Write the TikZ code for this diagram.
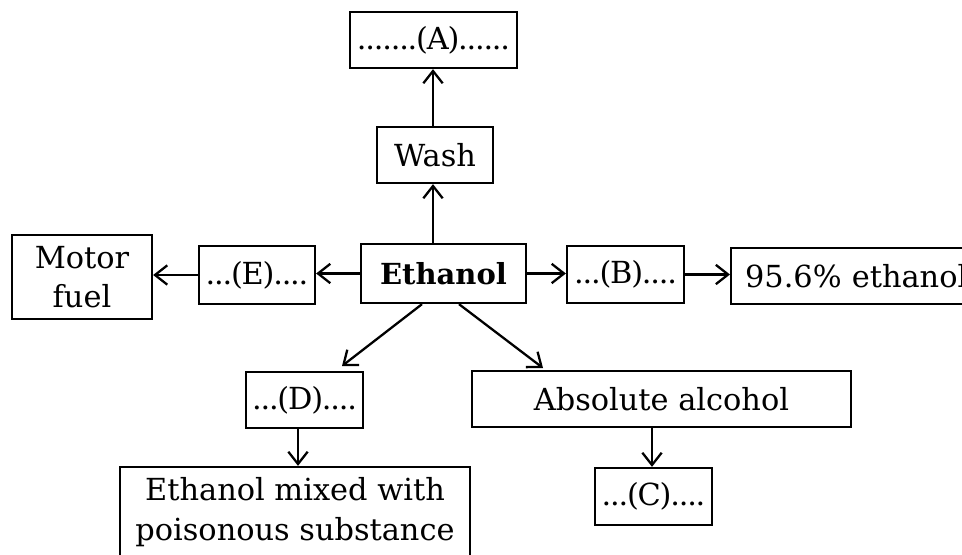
\documentclass[tikz,border=0pt]{standalone}
\usepackage{fontspec}
\setmainfont{DejaVu Serif}
\usetikzlibrary{arrows.meta}
\begin{document}
\begin{tikzpicture}[x=0.02cm,y=-0.02cm,
  box/.style={draw,line width=1.3pt,rectangle,inner sep=0pt,align=center,
    font=\fontsize{17.3}{22.5}\selectfont},
  blank/.style={box,font=\fontsize{17.3}{22.5}\selectfont\addfontfeatures{LetterSpace=-4}},
  conn/.style={line width=1.3pt,-{Straight Barb[length=7pt,width=11pt,line width=1.3pt]}}]
\useasboundingbox (0,0) rectangle (962,554);
\begin{scope}
\clip (0,0) rectangle (962,554);
% top chain
\node[blank,minimum width=167*0.02cm,minimum height=56*0.02cm] (A) at (433.5,40) {.......(A)......};
\node[box,minimum width=116*0.02cm,minimum height=56*0.02cm] (wash) at (435,155) {Wash};
% middle row
\node[box,minimum width=165*0.02cm,minimum height=59*0.02cm,font=\fontsize{16.5}{20}\selectfont\bfseries] (eth) at (443.5,273.5) {Ethanol};
\node[blank,minimum width=116*0.02cm,minimum height=58*0.02cm] (E) at (257,275) {...(E)....};
\node[box,minimum width=140*0.02cm,minimum height=84*0.02cm] (motor) at (82,277) {Motor\\fuel};
\node[blank,minimum width=117*0.02cm,minimum height=57*0.02cm] (B) at (625.5,274.5) {...(B)....};
\node[box,minimum width=262*0.02cm,minimum height=56*0.02cm,anchor=west,inner xsep=14*0.02cm,text width=234*0.02cm,align=left] (pure) at (730,276) {95.6\% ethanol};
% lower rows
\node[blank,minimum width=117*0.02cm,minimum height=56*0.02cm] (D) at (304.5,400) {...(D)....};
\node[box,minimum width=350*0.02cm,minimum height=90*0.02cm] (mixed) at (295,512) {Ethanol mixed with\\poisonous substance};
\node[box,minimum width=379*0.02cm,minimum height=56*0.02cm] (abs) at (661.5,399) {Absolute alcohol};
\node[blank,minimum width=117*0.02cm,minimum height=57*0.02cm] (C) at (653.5,496.5) {...(C)....};
% free ends of the two slanted connectors
\coordinate (dtip) at (342,366);
\coordinate (atip) at (543,368);
% connectors
\draw[conn] (eth.north -| 433,0) -- (wash.south -| 433,0);
\draw[conn] (wash.north -| 433,0) -- (A.south -| 433,0);
\draw[conn] (eth.west) -- (E.east |- eth.west);
\draw[conn] (E.west) -- (motor.east |- E.west);
\draw[conn] (eth.east) -- (B.west |- eth.east);
\draw[conn] (B.east) -- (pure.west |- B.east);
\draw[conn] (eth.south -| 422,0) -- (dtip);
\draw[conn] (eth.south -| 459,0) -- (atip);
\draw[conn] (D.south -| 298,0) -- (mixed.north -| 298,0);
\draw[conn] (abs.south -| 652,0) -- (C.north -| 652,0);
\end{scope}
\end{tikzpicture}
\end{document}
